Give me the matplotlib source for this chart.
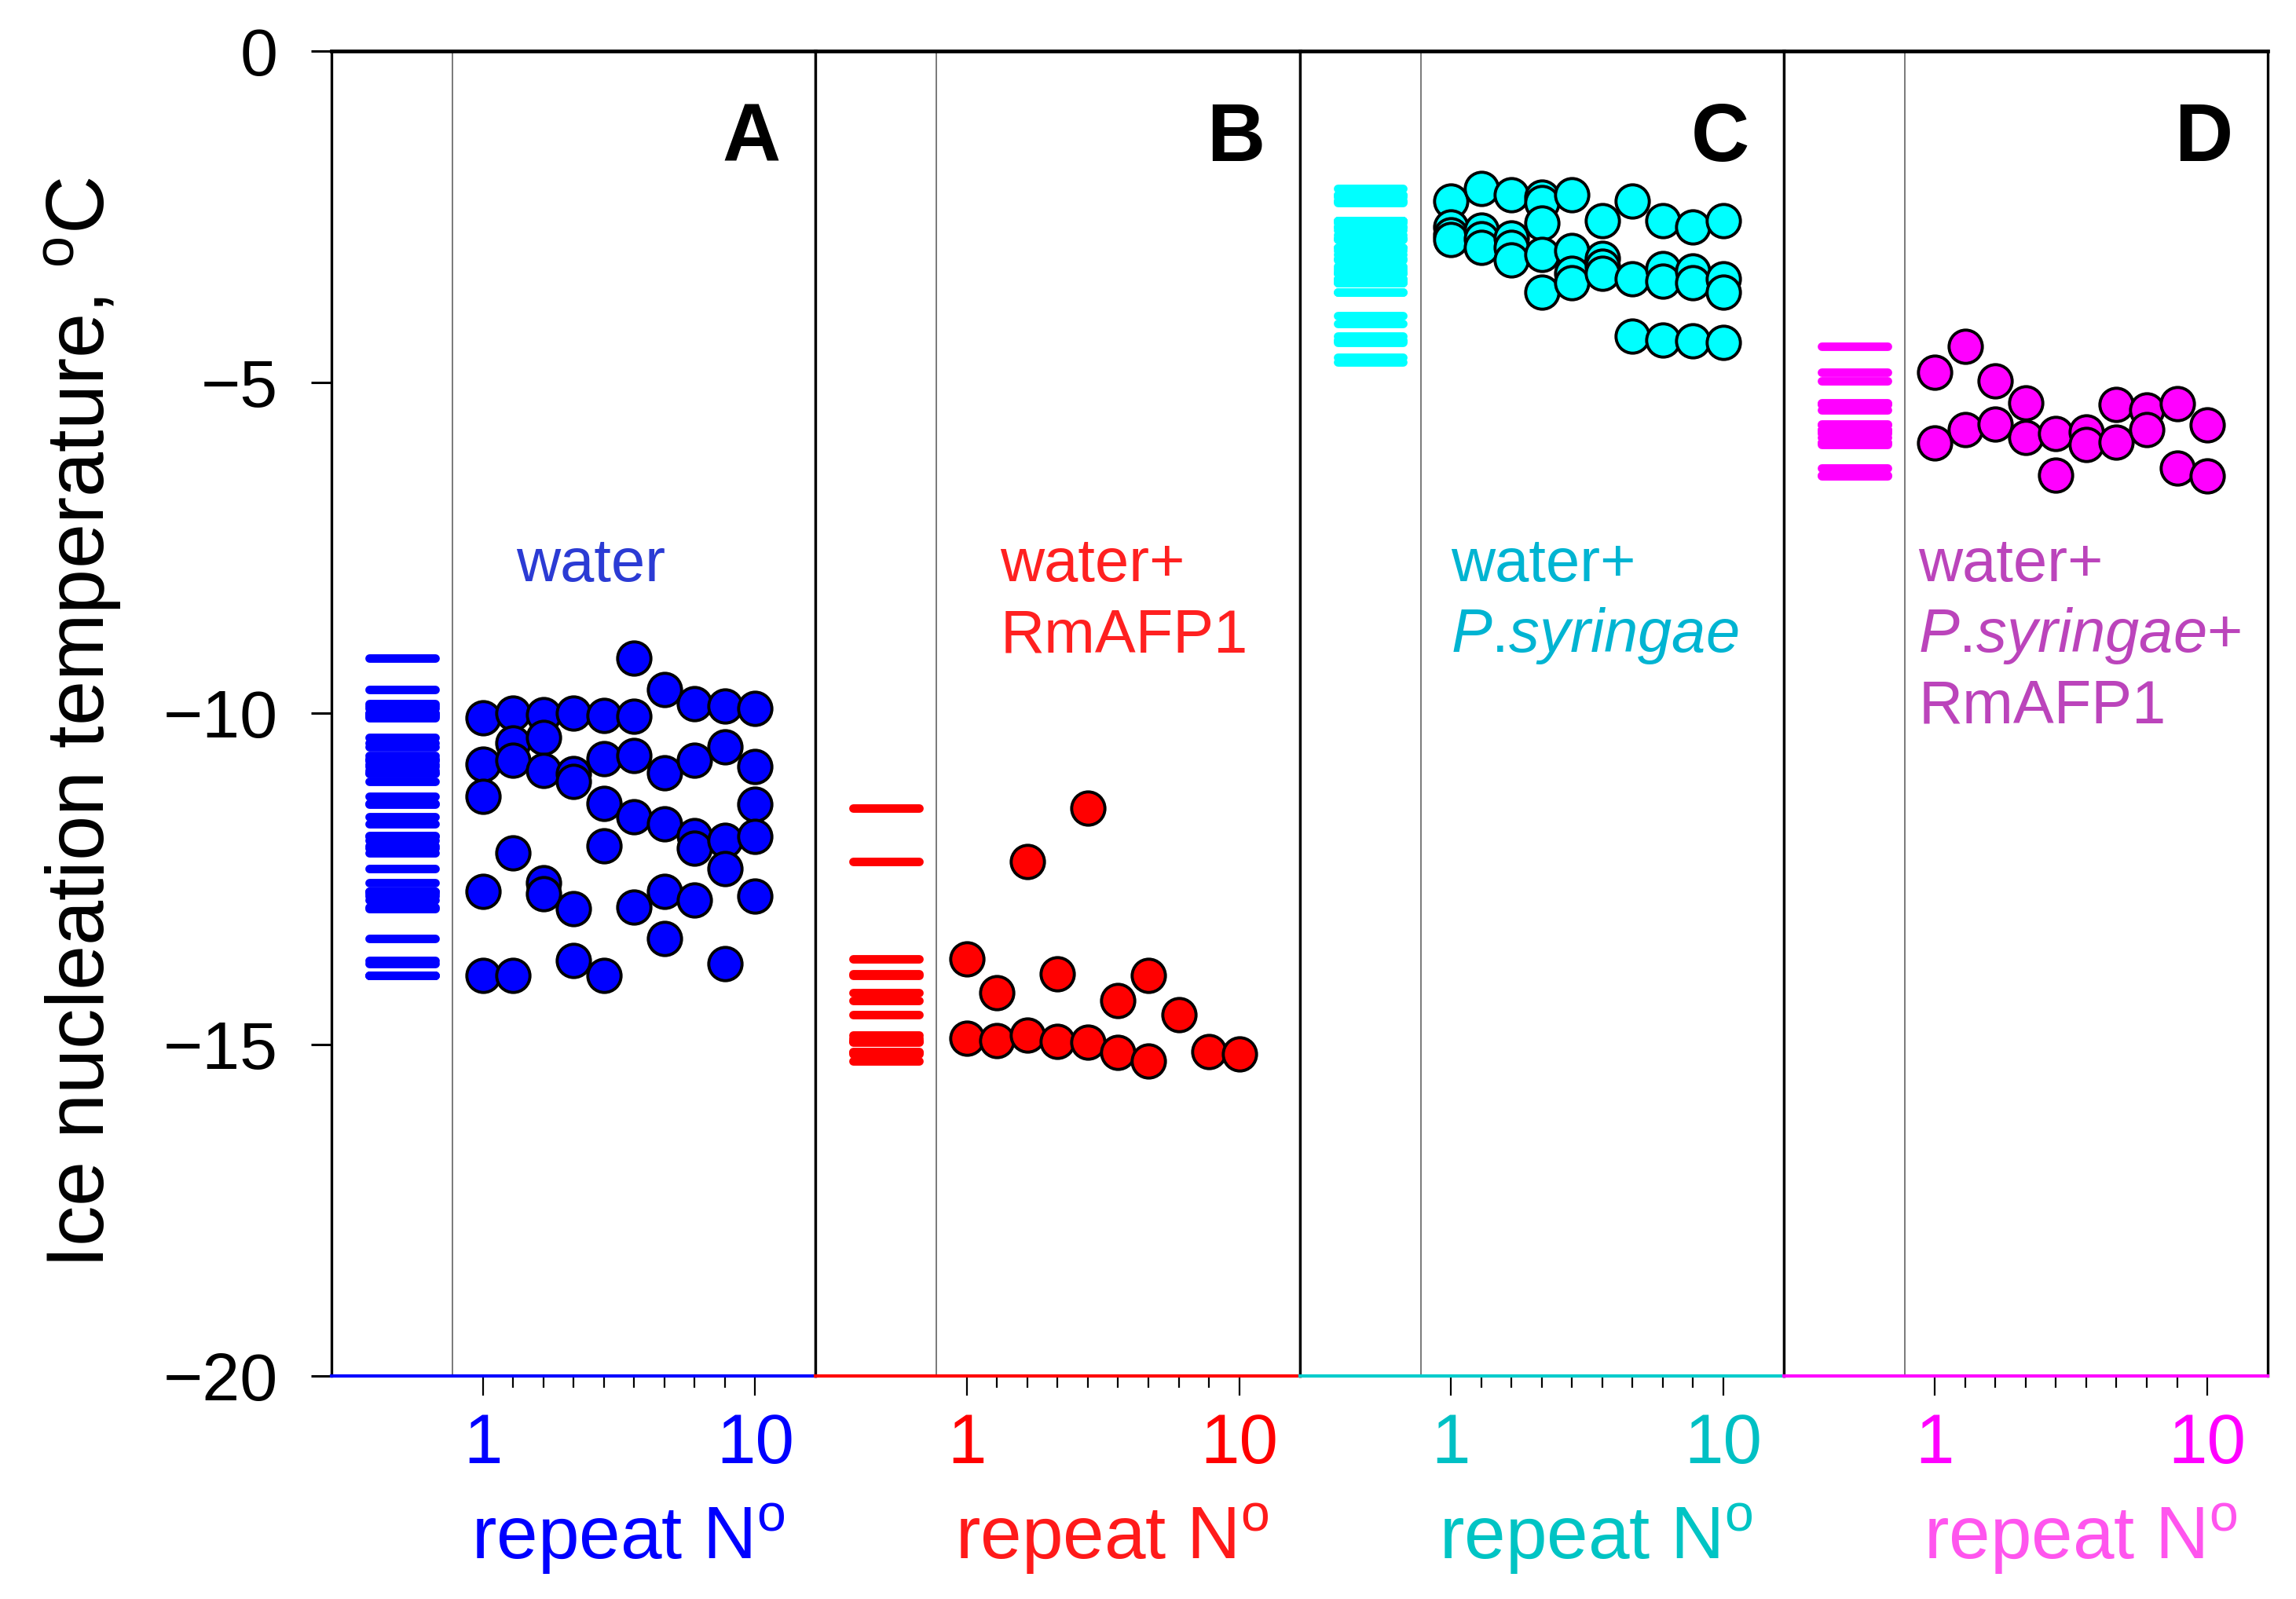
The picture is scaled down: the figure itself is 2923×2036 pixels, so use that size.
import matplotlib.pyplot as plt
from matplotlib.ticker import FixedLocator

plt.rcParams['font.family'] = ['Liberation Sans', 'DejaVu Sans']
plt.rcParams['mathtext.fontset'] = 'custom'
plt.rcParams['mathtext.rm'] = 'Liberation Sans'
plt.rcParams['mathtext.it'] = 'Liberation Sans:italic'

repeats = list(range(1, 11))

# ice nucleation temperatures (degC), one list per repeat No 1..10
temp_water = [
    [-10.06, -10.77, -11.25, -12.69, -13.95],
    [-9.99, -10.44, -10.70, -12.10, -13.95],
    [-10.02, -10.36, -10.86, -12.55, -12.72],
    [-9.99, -10.91, -11.03, -12.95, -13.73],
    [-10.03, -10.68, -11.36, -12.00, -13.95],
    [-9.16, -10.04, -10.63, -11.56, -12.92],
    [-9.64, -10.90, -11.67, -12.68, -13.40],
    [-9.85, -10.70, -11.84, -12.03, -12.82],
    [-9.89, -10.51, -11.92, -12.34, -13.78],
    [-9.92, -10.80, -11.37, -11.86, -12.76],
]
temp_afp = [
    [-13.71, -14.90],
    [-14.22, -14.94],
    [-12.23, -14.85],
    [-13.93, -14.95],
    [-11.43, -14.96],
    [-14.33, -15.12],
    [-13.96, -15.25],
    [-14.55],
    [-15.10],
    [-15.14],
]
temp_psy = [
    [-2.26, -2.66, -2.78, -2.84],
    [-2.08, -2.70, -2.83, -2.97],
    [-2.17, -2.82, -2.97, -3.15],
    [-2.21, -2.29, -2.60, -3.07, -3.64],
    [-2.17, -3.01, -3.36, -3.50],
    [-2.56, -3.13, -3.25, -3.36],
    [-2.27, -3.44, -4.30],
    [-2.56, -3.28, -3.48, -4.36],
    [-2.66, -3.32, -3.50, -4.38],
    [-2.56, -3.44, -3.64, -4.40],
]
temp_psy_afp = [
    [-4.85, -5.92],
    [-4.46, -5.71],
    [-4.98, -5.63],
    [-5.31, -5.83],
    [-5.77, -6.40],
    [-5.75, -5.94],
    [-5.34, -5.90],
    [-5.42, -5.71],
    [-5.32, -6.30],
    [-5.64, -6.41],
]
# extra values only seen in the distribution strip of panel C
rug_extra_psy = [-4.00, -4.11, -4.62, -4.69]

panel_letters = ['A', 'B', 'C', 'D']
panel_texts = [
    ['water'],
    ['water+', 'RmAFP1'],
    ['water+', r'$\mathit{P}$.$\mathit{syringae}$'],
    ['water+', r'$\mathit{P}$.$\mathit{syringae}$+', 'RmAFP1'],
]
yticks = [0, -5, -10, -15, -20]

marker_cols = ['#0000ff', '#ff0000', '#00ffff', '#ff00ff']
text_cols = ['#2b3bd4', '#ff2020', '#00b4d2', '#bb44bb']
ticklab_cols = ['#0000ff', '#ff0000', '#00c0c4', '#ff00ff']
xlabel_cols = ['#0000ff', '#ff1a1a', '#00c4c4', '#ff55ee']
spine_cols = ['#0000ff', '#ff0000', '#00cccc', '#ff00ff']
text_x = [2.1, 2.1, 1.0, 0.45]

fig = plt.figure(figsize=(29.23, 20.36), dpi=100)
left, right, bottom, top = 0.1444, 0.9877, 0.1395, 0.9681
w = (right - left) / 4

temps = [temp_water, temp_afp, temp_psy, temp_psy_afp]

for i in range(4):
    ax = fig.add_axes([left + i * w, bottom, w, top - bottom])
    ax.set_xlim(-4, 12)
    ax.set_ylim(-20, 0)

    xs, ys = [], []
    for r, vals in zip(repeats, temps[i]):
        xs += [r] * len(vals)
        ys += vals
    rug = list(ys)
    if i == 2:
        rug += rug_extra_psy

    ax.axvline(0, color='#555555', lw=1.1, zorder=1)
    ax.hlines(rug, -2.75, -0.58, color=marker_cols[i], lw=7.8,
              capstyle='round', zorder=2)
    ax.plot(xs, ys, 'o', ms=30.5, mfc=marker_cols[i], mec='black',
            mew=2.8, zorder=3, clip_on=False)

    ax.text(10.85, -1.66, panel_letters[i], fontsize=74, fontweight='bold',
            ha='right', va='baseline')
    for k, line in enumerate(panel_texts[i]):
        ax.text(text_x[i], -8.0 - 1.07 * k, line, fontsize=56,
                color=text_cols[i], ha='left', va='baseline')

    for side in ['left', 'right']:
        ax.spines[side].set_linewidth(2.4)
        ax.spines[side].set_color('black')
    ax.spines['top'].set_linewidth(3.4)
    ax.spines['bottom'].set_linewidth(3.0)
    ax.spines['bottom'].set_color(spine_cols[i])

    ax.set_xticks([1, 10])
    ax.set_xticklabels(['1', '10'])
    ax.xaxis.set_minor_locator(FixedLocator(range(2, 10)))
    ax.tick_params(axis='x', which='major', direction='out', length=18,
                   width=1.6, color='black', labelsize=64,
                   labelcolor=ticklab_cols[i], pad=15)
    ax.tick_params(axis='x', which='minor', direction='out', length=11,
                   width=1.6, color='black')
    ax.text(5.8, -22.76, r'repeat N$^{\mathregular{o}}$', fontsize=68,
            color=xlabel_cols[i], ha='center', va='baseline', clip_on=False)

    if i == 0:
        ax.set_yticks(yticks)
        ax.set_yticklabels([str(t).replace('-', '\u2212') for t in yticks])
        ax.tick_params(axis='y', direction='out', length=19, width=2.2,
                       labelsize=62, pad=30)
    else:
        ax.tick_params(axis='y', left=False, labelleft=False)

fig.text(0.036, 0.548, r'Ice nucleation temperature, $^{\mathregular{o}}$C',
         rotation=90, fontsize=74, ha='center', va='center')

fig.savefig('out.png', dpi=100)
